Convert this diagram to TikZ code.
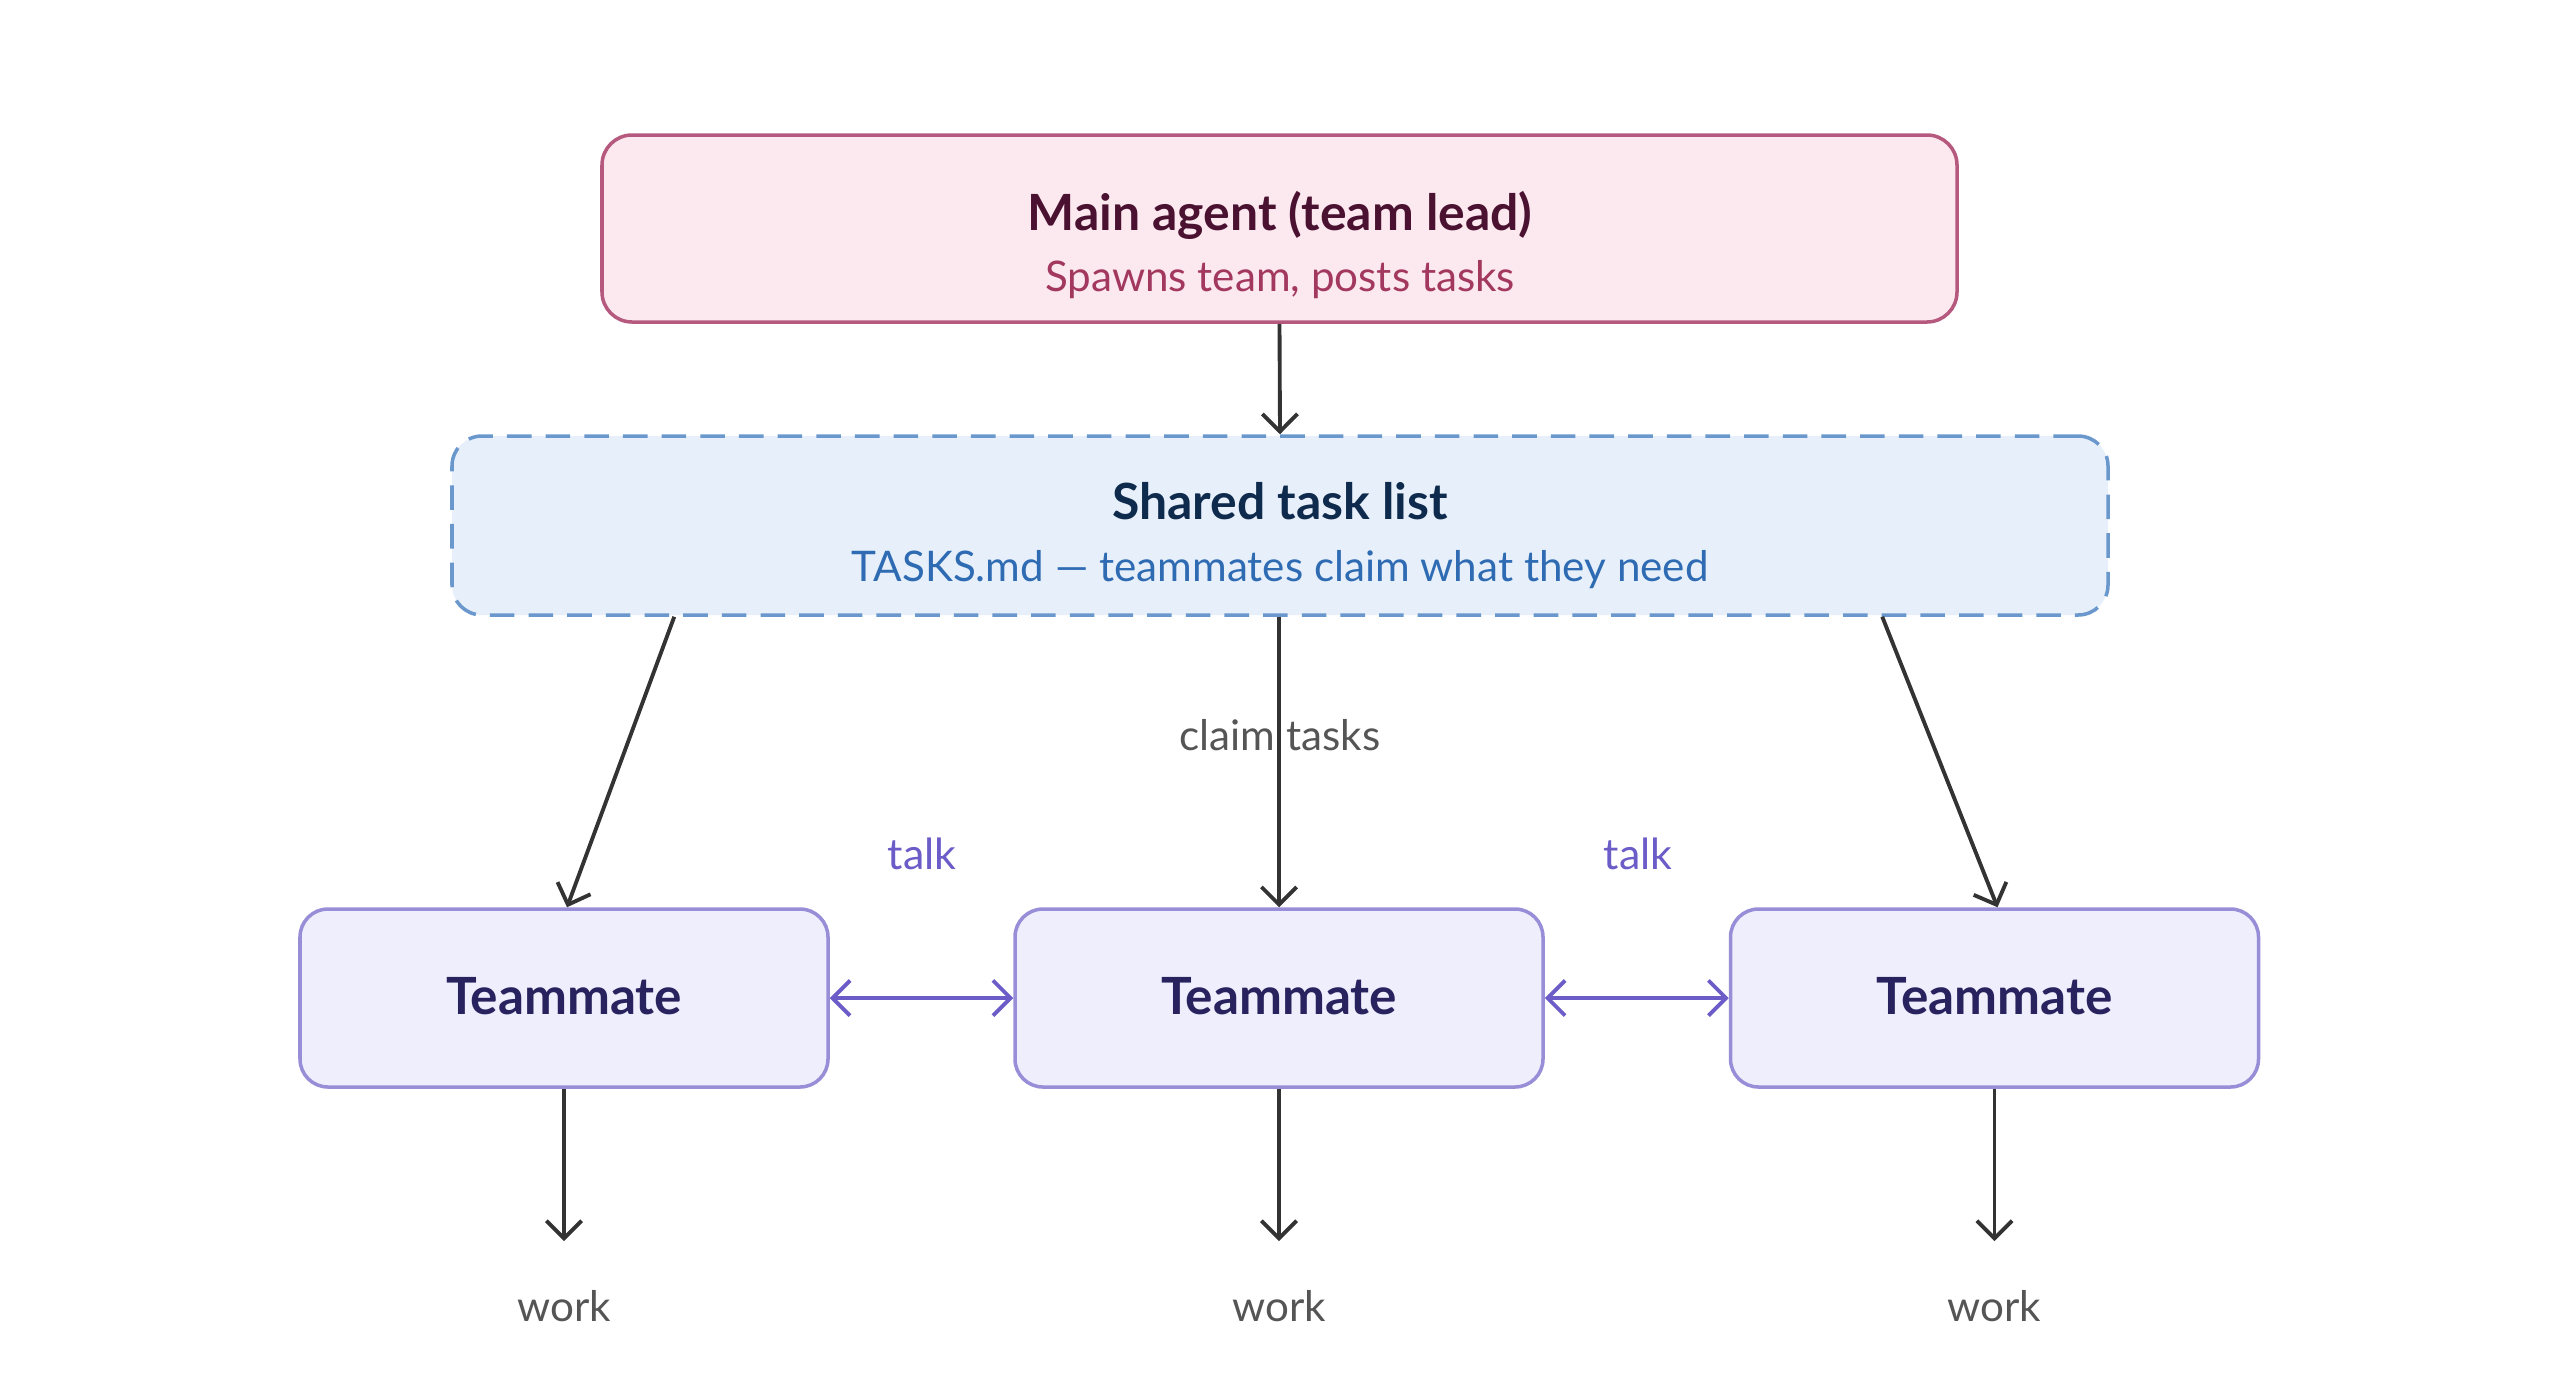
\documentclass[tikz,border=0pt]{standalone}
\usepackage{fontspec}
\setmainfont{Lato}
\usetikzlibrary{arrows.meta,calc}
\definecolor{mainfill}{HTML}{FCE8EF}
\definecolor{maindraw}{HTML}{B55A7E}
\definecolor{maintitle}{HTML}{4A1230}
\definecolor{mainsub}{HTML}{A3385F}
\definecolor{sharedfill}{HTML}{E7F0FA}
\definecolor{shareddraw}{HTML}{6A98CC}
\definecolor{sharedtitle}{HTML}{0E2A4C}
\definecolor{sharedsub}{HTML}{2E6BB3}
\definecolor{tmfill}{HTML}{EEEEFC}
\definecolor{tmdraw}{HTML}{988ED8}
\definecolor{tmtext}{HTML}{28235E}
\definecolor{talkcol}{HTML}{6B5CC8}
\definecolor{arrowcol}{HTML}{333333}
\definecolor{labelcol}{HTML}{555555}
\tikzset{
  box/.style={rectangle, rounded corners=0.3cm, line width=1pt, inner sep=0pt},
  mainbox/.style={box, fill=mainfill, draw=maindraw, minimum width=13.55cm, minimum height=1.87cm},
  sharedbox/.style={box, fill=sharedfill, draw=shareddraw, dashed, dash pattern=on 7pt off 4pt, minimum width=16.56cm, minimum height=1.79cm},
  tmbox/.style={box, fill=tmfill, draw=tmdraw, minimum width=5.28cm, minimum height=1.78cm, rounded corners=0.28cm},
  titletext/.style={anchor=base, font=\bfseries\fontsize{14.2}{17}\selectfont, inner sep=0pt},
  subtext/.style={anchor=base, font=\fontsize{12}{14}\selectfont, inner sep=0pt},
  tmtextstyle/.style={anchor=base, font=\bfseries\fontsize{14.6}{17}\selectfont, text=tmtext, inner sep=0pt},
  lbl/.style={anchor=base, font=\fontsize{12}{14}\selectfont, text=labelcol, inner sep=0pt},
  talklbl/.style={anchor=base, font=\fontsize{12.2}{14}\selectfont, text=talkcol, inner sep=0pt},
  flow/.style={draw=arrowcol, line width=1.1pt, -{Straight Barb[length=5pt,width=10pt,line width=1.1pt]}},
  talkarrow/.style={draw=talkcol, line width=1.1pt, {Straight Barb[length=5pt,width=10pt,line width=1.1pt]}-{Straight Barb[length=5pt,width=10pt,line width=1.1pt]}},
}
\begin{document}
\begin{tikzpicture}
\useasboundingbox (0,0) rectangle (25.6,-13.76);
% main agent
\node[mainbox] (main) at (12.795,-2.285) {};
\node[titletext, text=maintitle] (maint) at (12.8,-2.30) {Main agent (team lead)};
\node[subtext, text=mainsub] (mains) at (12.8,-2.91) {Spawns team, posts tasks};
% shared task list
\node[sharedbox] (shared) at (12.80,-5.255) {};
\node[titletext, text=sharedtitle] (sharedt) at (12.8,-5.19) {Shared task list};
\node[subtext, text=sharedsub] (shareds) at (12.8,-5.81) {TASKS.md — teammates claim what they need};
% teammates
\node[tmbox] (tm1) at (5.64,-9.98) {};
\node[tmbox] (tm2) at (12.79,-9.98) {};
\node[tmbox] (tm3) at (19.945,-9.98) {};
\node[tmtextstyle] (tm1t) at (5.64,-10.14) {Teammate};
\node[tmtextstyle] (tm2t) at (12.79,-10.14) {Teammate};
\node[tmtextstyle] (tm3t) at (19.945,-10.14) {Teammate};
% work targets
\coordinate (w1) at (5.64,-12.41);
\coordinate (w2) at (12.79,-12.41);
\coordinate (w3) at (19.945,-12.41);
\node[lbl] (work1) at (5.64,-13.21) {work};
\node[lbl] (work2) at (12.79,-13.21) {work};
\node[lbl] (work3) at (19.945,-13.21) {work};
% connectors
\draw[flow] (main.south) -- (shared.north);
\coordinate (s1) at ($(shared.south west)+(2.24,0)$);
\coordinate (s3) at ($(shared.south west)+(14.32,0)$);
\coordinate (t1) at ($(tm1.north)+(0.03,0)$);
\coordinate (t3) at ($(tm3.north)+(0.03,0)$);
\draw[flow] (s1) -- (t1);
\draw[flow] (shared.south -| tm2.north) -- (tm2.north);
\draw[flow] (s3) -- (t3);
\node[lbl] (claim) at (12.8,-7.50) {claim tasks};
\draw[talkarrow] (tm1.east) -- (tm2.west);
\draw[talkarrow] (tm2.east) -- (tm3.west);
\node[talklbl] (talk1) at (9.22,-8.69) {talk};
\node[talklbl] (talk2) at (16.38,-8.69) {talk};
\draw[flow] (tm1.south) -- (w1);
\draw[flow] (tm2.south) -- (w2);
\draw[flow] (tm3.south) -- (w3);
\end{tikzpicture}
\end{document}
